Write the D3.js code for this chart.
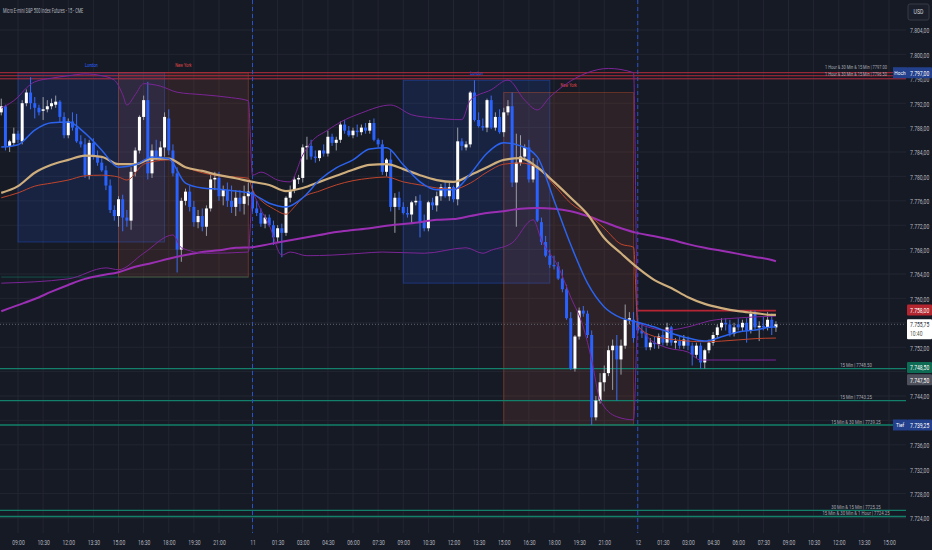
<!DOCTYPE html>
<html>
<head>
<meta charset="utf-8">
<script src="https://cdn.jsdelivr.net/npm/d3@7"></script>
<style>
html, body { margin: 0; padding: 0; background: #161a25; overflow: hidden; }
svg { display: block; font-family: Roboto, "Liberation Sans", sans-serif; }
</style>
</head>
<body>
<div id="chart"></div>
<script>
// ---- candles (15 min bars, index 0 = 08:00 on the 10th) ----
const opens = [
  7790.5, 7791.5, 7785.0, 7785.5, 7787.0, 7785.75, 7792.0, 7793.75, 7792.0, 7791.25,
  7790.75, 7791.0, 7791.5, 7791.75, 7792.25, 7789.75, 7786.75, 7789.0, 7788.0, 7785.75,
  7785.25, 7780.25, 7785.5, 7783.25, 7782.25, 7781.0, 7778.5, 7774.5, 7773.5, 7776.25,
  7773.25, 7772.75, 7780.75, 7784.25, 7789.75, 7792.5, 7780.5, 7784.25, 7783.25, 7784.75,
  7789.5, 7784.25, 7780.5, 7768.0, 7776.0, 7777.5, 7775.0, 7772.5, 7773.5, 7771.75,
  7774.75, 7779.5, 7779.75, 7776.75, 7777.75, 7776.0, 7775.0, 7776.5, 7775.5, 7776.75,
  7777.5, 7774.75, 7774.0, 7772.25, 7773.25, 7772.0, 7770.0, 7771.5, 7770.75, 7776.5,
  7777.75, 7779.5, 7779.75, 7784.75, 7785.0, 7783.25, 7783.0, 7784.25, 7783.75, 7786.5,
  7785.5, 7786.0, 7788.5, 7787.5, 7786.75, 7787.5, 7787.25, 7788.0, 7787.5, 7788.75,
  7786.0, 7785.25, 7780.75, 7782.75, 7775.0, 7776.5, 7775.0, 7774.0, 7773.75, 7775.75,
  7776.0, 7772.5, 7771.5, 7775.75, 7775.25, 7776.75, 7778.25, 7776.75, 7778.25, 7776.25,
  7785.75, 7784.75, 7785.25, 7793.75, 7789.25, 7788.25, 7788.0, 7792.5, 7788.0, 7789.75,
  7787.25, 7790.5, 7791.5, 7779.0, 7782.25, 7783.25, 7784.75, 7779.5, 7781.75, 7772.5,
  7769.25, 7767.0, 7765.5, 7765.25, 7763.25, 7761.5, 7756.75, 7748.5, 7753.75, 7758.0,
  7757.5, 7754.0, 7740.5, 7743.25, 7746.25, 7747.75, 7751.5, 7752.25, 7750.0, 7752.25,
  7756.5, 7756.5, 7756.0, 7754.75, 7754.25, 7752.0, 7752.75, 7752.5, 7754.0, 7752.75,
  7755.25, 7752.75, 7753.0, 7752.25, 7753.25, 7752.25, 7750.75, 7752.25, 7749.5, 7751.5,
  7752.75, 7754.0, 7755.25, 7756.0, 7755.75, 7754.25, 7755.75, 7755.25, 7756.0, 7754.75,
  7757.5, 7755.25, 7755.5, 7755.25, 7756.5, 7755.25
];
const highs = [
  7792.75, 7791.75, 7786.0, 7788.0, 7787.5, 7792.5, 7794.25, 7796.25, 7793.0, 7791.75,
  7793.0, 7792.5, 7792.75, 7793.25, 7792.5, 7790.5, 7789.5, 7790.5, 7790.25, 7786.75,
  7786.25, 7786.0, 7786.25, 7784.25, 7783.0, 7781.75, 7779.5, 7775.25, 7776.75, 7777.0,
  7774.5, 7781.5, 7784.75, 7790.0, 7793.25, 7795.5, 7785.25, 7786.0, 7785.75, 7790.5,
  7791.0, 7785.25, 7781.5, 7776.5, 7778.0, 7778.5, 7776.0, 7774.5, 7774.75, 7775.25,
  7780.25, 7780.75, 7780.75, 7778.5, 7779.0, 7778.5, 7777.75, 7777.75, 7778.5, 7779.0,
  7778.5, 7776.0, 7774.75, 7773.75, 7773.75, 7772.75, 7772.0, 7772.25, 7776.75, 7778.5,
  7780.0, 7780.25, 7785.25, 7786.5, 7786.0, 7784.25, 7784.25, 7785.25, 7787.5, 7787.0,
  7786.5, 7789.0, 7789.25, 7788.25, 7788.0, 7788.5, 7788.5, 7788.75, 7789.25, 7789.5,
  7786.25, 7786.0, 7783.0, 7784.25, 7777.25, 7777.5, 7775.75, 7775.0, 7776.0, 7776.75,
  7777.0, 7773.75, 7776.0, 7776.5, 7777.5, 7778.75, 7779.0, 7779.0, 7778.5, 7788.0,
  7786.25, 7785.75, 7794.0, 7795.75, 7790.5, 7789.5, 7792.75, 7793.25, 7790.5, 7791.0,
  7791.25, 7792.5, 7793.75, 7787.0, 7786.75, 7785.25, 7786.0, 7783.0, 7782.75, 7773.25,
  7770.25, 7768.0, 7767.0, 7766.0, 7764.75, 7762.25, 7757.75, 7754.0, 7758.5, 7758.75,
  7758.0, 7754.75, 7744.0, 7747.75, 7749.0, 7752.25, 7753.25, 7754.0, 7753.25, 7759.0,
  7757.75, 7757.75, 7756.75, 7755.75, 7755.25, 7753.5, 7753.75, 7754.25, 7754.75, 7756.0,
  7755.5, 7753.5, 7753.75, 7754.0, 7753.75, 7752.75, 7752.75, 7752.75, 7751.75, 7753.25,
  7754.5, 7755.75, 7756.75, 7756.75, 7756.5, 7756.0, 7756.75, 7756.5, 7756.75, 7758.0,
  7758.0, 7756.25, 7757.0, 7757.75, 7757.5, 7756.25
];
const lows = [
  7790.0, 7784.25, 7784.0, 7785.0, 7785.5, 7785.25, 7791.5, 7791.0, 7789.5, 7790.0,
  7789.25, 7790.5, 7791.0, 7791.25, 7788.75, 7786.25, 7786.25, 7787.5, 7785.5, 7784.75,
  7779.75, 7779.5, 7782.75, 7781.75, 7780.75, 7777.75, 7774.0, 7772.75, 7771.75, 7771.0,
  7771.75, 7771.25, 7780.0, 7783.75, 7789.25, 7779.5, 7779.75, 7782.75, 7782.75, 7783.25,
  7783.5, 7780.0, 7764.25, 7766.0, 7775.25, 7774.25, 7771.75, 7771.5, 7771.0, 7770.25,
  7774.25, 7777.75, 7776.0, 7775.25, 7775.0, 7774.0, 7773.5, 7774.25, 7773.75, 7775.25,
  7774.25, 7773.5, 7771.75, 7771.5, 7771.75, 7768.75, 7769.25, 7766.75, 7770.25, 7775.75,
  7777.25, 7778.75, 7779.0, 7782.75, 7782.75, 7782.25, 7782.5, 7783.25, 7783.25, 7785.0,
  7784.25, 7785.5, 7787.0, 7786.5, 7786.25, 7786.5, 7786.75, 7787.0, 7787.0, 7785.75,
  7784.75, 7780.25, 7780.0, 7774.25, 7770.75, 7774.5, 7773.75, 7773.25, 7772.25, 7775.25,
  7770.0, 7771.0, 7771.0, 7774.5, 7774.25, 7776.0, 7776.5, 7776.0, 7775.75, 7775.25,
  7784.25, 7784.25, 7784.75, 7789.0, 7788.0, 7787.5, 7787.25, 7787.75, 7787.5, 7787.0,
  7786.5, 7790.0, 7778.25, 7771.75, 7781.75, 7783.0, 7779.0, 7779.0, 7772.5, 7768.75,
  7766.75, 7765.0, 7764.75, 7763.0, 7761.0, 7756.5, 7748.25, 7748.0, 7753.25, 7757.0,
  7753.5, 7739.25, 7740.0, 7742.75, 7744.75, 7747.25, 7745.0, 7743.25, 7747.5, 7751.75,
  7755.75, 7752.75, 7754.25, 7753.5, 7751.5, 7751.5, 7751.75, 7751.75, 7752.25, 7752.25,
  7752.25, 7751.75, 7751.75, 7751.75, 7751.5, 7749.0, 7750.25, 7748.5, 7748.5, 7751.0,
  7752.25, 7753.5, 7754.75, 7754.75, 7753.75, 7753.75, 7754.75, 7754.5, 7752.75, 7754.25,
  7754.75, 7753.0, 7754.75, 7754.75, 7754.0, 7754.5
];
const closes = [
  7791.5, 7785.0, 7785.75, 7787.0, 7786.0, 7792.0, 7793.75, 7792.0, 7791.25, 7790.5,
  7791.0, 7791.5, 7792.0, 7792.25, 7789.75, 7786.75, 7789.0, 7788.0, 7785.75, 7785.25,
  7780.25, 7785.5, 7783.25, 7782.25, 7781.0, 7778.5, 7774.5, 7773.5, 7776.25, 7773.25,
  7772.75, 7780.75, 7784.25, 7789.75, 7792.5, 7780.5, 7784.25, 7783.25, 7784.75, 7789.75,
  7784.25, 7780.5, 7768.0, 7776.0, 7777.5, 7775.0, 7772.5, 7773.5, 7771.75, 7774.75,
  7779.5, 7779.75, 7776.75, 7777.75, 7776.0, 7775.0, 7776.5, 7775.5, 7776.75, 7777.5,
  7774.75, 7774.0, 7772.25, 7773.25, 7772.0, 7770.0, 7771.5, 7770.75, 7776.5, 7777.75,
  7779.5, 7779.75, 7784.75, 7785.0, 7783.25, 7783.0, 7784.25, 7783.75, 7786.5, 7785.5,
  7786.0, 7788.5, 7787.5, 7786.75, 7787.5, 7787.25, 7788.0, 7787.5, 7788.75, 7786.0,
  7785.25, 7780.75, 7782.75, 7775.0, 7776.5, 7775.0, 7774.0, 7773.75, 7775.75, 7776.0,
  7772.5, 7771.5, 7775.75, 7775.25, 7776.75, 7778.25, 7776.75, 7778.25, 7776.25, 7785.75,
  7785.0, 7785.25, 7793.75, 7789.25, 7788.25, 7788.0, 7792.5, 7788.0, 7789.75, 7787.25,
  7790.5, 7791.5, 7779.0, 7782.25, 7783.25, 7784.75, 7779.5, 7781.75, 7772.75, 7769.25,
  7767.0, 7765.5, 7765.25, 7763.25, 7761.5, 7756.75, 7748.5, 7753.75, 7758.0, 7757.5,
  7754.0, 7740.5, 7743.25, 7746.25, 7747.75, 7751.5, 7752.25, 7750.0, 7752.25, 7756.5,
  7756.75, 7753.5, 7754.75, 7754.25, 7752.0, 7752.75, 7752.5, 7753.75, 7752.75, 7755.25,
  7752.75, 7753.0, 7752.25, 7753.25, 7752.25, 7750.75, 7752.25, 7749.5, 7751.5, 7752.75,
  7754.0, 7755.25, 7756.0, 7755.75, 7754.25, 7755.25, 7755.25, 7756.0, 7754.75, 7757.5,
  7755.25, 7755.5, 7755.25, 7756.5, 7755.25, 7755.75
];

// ---- indicator lines ----
const sampleBars = [0, 4, 8, 12, 16, 20, 24, 28, 32, 36, 40, 44, 48, 52, 56, 60, 64, 68, 72, 76,
  80, 84, 88, 92, 96, 100, 104, 108, 112, 116, 120, 124, 128, 132, 136, 140, 144, 148, 152, 156,
  160, 164, 168, 172, 176, 180, 184, 185];
const emaFast = [7784.8, 7785.2, 7787.6, 7788.8, 7788.9, 7787.1, 7784.3, 7781.5, 7781.9, 7783.2,
  7782.9, 7778.9, 7778.1, 7777.9, 7777.6, 7777.1, 7775.6, 7775.0, 7776.5, 7779.4,
  7781.4, 7782.7, 7784.5, 7784.7, 7781.9, 7779.1, 7777.8, 7777.8, 7780.4, 7783.8,
  7785.5, 7785.0, 7783.2, 7776.1, 7768.8, 7762.5, 7758.6, 7756.8, 7756.1, 7755.3,
  7754.3, 7753.5, 7753.0, 7753.7, 7754.5, 7754.8, 7755.3, 7755.3];
const emaMid = [7777.3, 7778.4, 7780.6, 7781.9, 7782.7, 7783.4, 7783.2, 7782.0, 7782.0, 7782.9,
  7782.9, 7781.5, 7780.9, 7780.2, 7779.7, 7779.1, 7778.6, 7777.6, 7778.1, 7779.1,
  7780.1, 7781.1, 7781.9, 7782.0, 7781.2, 7780.2, 7779.4, 7779.1, 7780.2, 7781.5,
  7782.7, 7783.0, 7781.5, 7779.1, 7776.5, 7773.8, 7769.9, 7767.4, 7765.0, 7763.0,
  7761.7, 7760.2, 7759.1, 7758.4, 7757.9, 7757.6, 7757.3, 7757.3];
const emaSlow = [7757.9, 7758.9, 7759.9, 7761.1, 7762.2, 7763.2, 7763.8, 7764.3, 7765.2, 7765.8,
  7766.5, 7767.1, 7767.6, 7767.9, 7768.3, 7768.4, 7768.9, 7769.4, 7769.9, 7770.4,
  7770.9, 7771.2, 7771.5, 7771.9, 7772.2, 7772.5, 7772.9, 7773.0, 7773.5, 7774.0,
  7774.3, 7774.7, 7774.8, 7774.7, 7774.3, 7773.5, 7772.5, 7771.5, 7770.7, 7770.2,
  7769.6, 7768.9, 7768.3, 7767.8, 7767.3, 7766.8, 7766.3, 7766.1];

const vwapBars = [0, 4, 8, 12, 16, 20, 24, 28, 30, 34, 36, 40, 44, 48, 52, 56, 59,
  60, 62, 65, 68, 70, 72, 76, 80, 84, 88, 92, 96, 100, 104, 108, 112, 116, 120, 124, 128, 132, 136, 140, 144, 148, 151,
  152, 155, 159, 164, 168, 172, 176, 180, 185];
const vwapVals = [7776.5, 7777.3, 7778.4, 7778.9, 7779.4, 7780.1, 7780.2, 7779.9, 7779.4, 7782.0, 7782.4, 7782.7, 7781.5, 7780.6, 7780.1, 7779.9, 7779.7,
  7777.8, 7776.1, 7774.7, 7773.8, 7775.0, 7776.5, 7777.6, 7778.6, 7779.3, 7779.7, 7779.9, 7779.1, 7778.6, 7778.1, 7777.9, 7778.9, 7780.7, 7782.0, 7782.2, 7781.4, 7778.6, 7775.6, 7773.8, 7771.5, 7768.9, 7768.4,
  7755.6, 7754.0, 7753.4, 7753.0, 7752.9, 7753.0, 7753.2, 7753.4, 7753.5];
const bandUpBars = [0, 4, 6, 8, 12, 16, 20, 24, 27, 29, 30, 32, 34, 38, 42, 48, 55, 59,
  60, 62, 66, 69, 72, 74, 78, 81, 86, 93, 98, 103, 110, 112, 117, 121, 125, 128, 131, 135, 140, 145, 151,
  152, 155, 159, 165, 169, 176, 185];
const bandUpVals = [7791.2, 7793.0, 7794.5, 7795.5, 7796.1, 7796.5, 7796.8, 7796.5, 7795.8, 7793.4, 7791.7, 7793.4, 7795.2, 7794.8, 7793.8, 7793.4, 7792.9, 7792.4,
  7780.2, 7780.7, 7779.4, 7779.1, 7783.5, 7785.6, 7787.6, 7788.9, 7790.4, 7791.7, 7790.1, 7789.6, 7789.3, 7792.5, 7794.2, 7795.8, 7792.5, 7790.9, 7793.0, 7795.2, 7797.0, 7797.7, 7797.0,
  7756.1, 7755.2, 7754.8, 7755.5, 7756.3, 7756.8, 7757.1];
const bandLoBars = [0, 16, 25, 28, 34, 41, 43, 49, 59,
  60, 62, 64, 67, 69, 73, 79, 86, 91, 101, 111, 115, 117, 122, 127, 129, 133, 136, 139, 141, 143, 147, 151,
  152, 155, 159, 164, 167, 176, 185];
const bandLoVals = [7762.5, 7763.2, 7765.0, 7764.7, 7767.4, 7770.4, 7768.3, 7767.4, 7767.6,
  7777.0, 7774.5, 7772.0, 7767.1, 7767.6, 7767.0, 7767.1, 7767.4, 7767.6, 7767.4, 7768.3, 7767.4, 7767.9, 7769.1, 7772.9, 7769.6, 7765.2, 7760.2, 7755.3, 7749.9, 7743.4, 7740.6, 7740.1,
  7755.2, 7753.2, 7751.9, 7751.2, 7749.9, 7749.9, 7749.9];

// ---- sessions ----
const sessionNames = ["London", "New York", "London", "New York"];
const sessionStart = [4, 28, 96, 120];
const sessionEnd = [39, 59, 131, 151];
const sessionHigh = [7797.0, 7797.0, 7795.75, 7793.75];
const sessionLow = [7769.25, 7763.5, 7762.5, 7739.25];

// ---- levels ----
const resPrices = [7797.0, 7796.5, 7796.0];
const resLabels = ["1 Hour & 30 Min & 15 Min | 7797.00", "1 Hour & 30 Min & 15 Min | 7796.50", ""];
const supPrices = [7748.5, 7743.25, 7739.25, 7725.25, 7724.25];
const supLabels = ["15 Min | 7748.50", "15 Min | 7743.25", "15 Min & 30 Min | 7739.25",
  "30 Min & 15 Min | 7725.25", "15 Min & 30 Min & 1 Hour | 7724.25"];
const oldLevel = 7763.5, oldLevelBars = [0, 59];
const dayHigh = 7758.0, dayHighBars = [152, 185];
const lastPrice = 7755.75, countdown = "10:40";
const highLabel = 7797.0, lowLabel = 7739.25, prevTag = 7747.5;

// ---- axes ----
const priceTicks = [7724, 7728, 7732, 7736, 7740, 7744, 7748, 7752, 7756, 7760, 7764,
  7768, 7772, 7776, 7780, 7784, 7788, 7792, 7796, 7800, 7804];
const timeTickBars = [4, 10, 16, 22, 28, 34, 40, 46, 52, 60, 66, 72, 78, 84, 90, 96, 102, 108, 114, 120,
  126, 132, 138, 144, 152, 158, 164, 170, 176, 182, 188, 194, 200, 206, 212];
const timeTickLabels = ["09:00", "10:30", "12:00", "13:30", "15:00", "16:30", "18:00", "19:30", "21:00", "11",
  "01:30", "03:00", "04:30", "06:00", "07:30", "09:00", "10:30", "12:00", "13:30", "15:00",
  "16:30", "18:00", "19:30", "21:00", "12", "01:30", "03:00", "04:30", "06:00", "07:30",
  "09:00", "10:30", "12:00", "13:30", "15:00"];
const dayStartBars = [60, 152];

const W = 932, H = 550;
const plotRight = 906, plotBottom = 533;
const TXT = "#b2b5be";

const x = d3.scaleLinear().domain([4, 212]).range([18, 889]);
const y = d3.scaleLinear().domain([7724, 7804]).range([518, 30]);
const fmtAxis = d3.formatLocale({decimal: ",", thousands: ".", grouping: [3], currency: ["", ""]}).format(",.2f");

const svg = d3.select("#chart").append("svg")
  .attr("width", W).attr("height", H);

svg.append("rect").attr("width", W).attr("height", H).attr("fill", "#161a25");

// squeezed text helper (the screenshot text is narrow)
function label(g, tx, ty, str, o) {
  o = o || {};
  return g.append("text")
    .attr("transform", "translate(" + tx + "," + ty + ") scale(" + (o.sx || 0.72) + ",1)")
    .attr("text-anchor", o.anchor || "start")
    .attr("dominant-baseline", "central")
    .attr("font-size", o.size || 7)
    .attr("fill", o.fill || TXT)
    .text(str);
}

// grid
const grid = svg.append("g");
grid.selectAll(".hg").data(priceTicks).enter().append("line")
  .attr("x1", 0).attr("x2", plotRight)
  .attr("y1", d => y(d)).attr("y2", d => y(d))
  .attr("stroke", "#222631").attr("stroke-width", 1);
grid.selectAll(".vg").data(timeTickBars).enter().append("line")
  .attr("x1", d => x(d)).attr("x2", d => x(d))
  .attr("y1", 0).attr("y2", plotBottom)
  .attr("stroke", "#222631").attr("stroke-width", 1);

// session boxes
const sess = svg.append("g");
sessionNames.forEach(function(n, i) {
  const isLon = n === "London";
  sess.append("rect")
    .attr("x", x(sessionStart[i])).attr("width", x(sessionEnd[i]) - x(sessionStart[i]))
    .attr("y", y(sessionHigh[i])).attr("height", y(sessionLow[i]) - y(sessionHigh[i]))
    .attr("fill", isLon ? "rgba(41,98,255,0.13)" : "rgba(255,110,60,0.10)")
    .attr("stroke", isLon ? "rgba(41,98,255,0.35)" : "rgba(230,90,50,0.35)")
    .attr("stroke-width", 1);
  label(sess, (x(sessionStart[i]) + x(sessionEnd[i])) / 2, y(sessionHigh[i]) - 7, n,
    {anchor: "middle", size: 4.5, sx: 0.85, fill: isLon ? "#2962ff" : "#e04848"});
});

// level lines
const lv = svg.append("g");
lv.append("line")
  .attr("x1", x(oldLevelBars[0])).attr("x2", x(oldLevelBars[1]))
  .attr("y1", y(oldLevel)).attr("y2", y(oldLevel))
  .attr("stroke", "rgba(16,128,102,0.55)").attr("stroke-width", 1);
resPrices.forEach(function(p) {
  lv.append("line").attr("x1", 0).attr("x2", plotRight)
    .attr("y1", y(p)).attr("y2", y(p))
    .attr("stroke", "#b52a3c").attr("stroke-width", 1);
});
supPrices.forEach(function(p) {
  lv.append("line").attr("x1", 0).attr("x2", plotRight)
    .attr("y1", y(p)).attr("y2", y(p))
    .attr("stroke", "#12806a").attr("stroke-width", 1.3);
});
lv.append("line")
  .attr("x1", x(dayHighBars[0])).attr("x2", x(dayHighBars[1]))
  .attr("y1", y(dayHigh)).attr("y2", y(dayHigh))
  .attr("stroke", "#b52533").attr("stroke-width", 1.6);

// day separators
svg.selectAll(".day").data(dayStartBars).enter().append("line")
  .attr("x1", d => x(d)).attr("x2", d => x(d))
  .attr("y1", 0).attr("y2", plotBottom)
  .attr("stroke", "#2a52c8").attr("stroke-width", 1)
  .attr("stroke-dasharray", "4,3");

// current price line
svg.append("line")
  .attr("x1", 0).attr("x2", plotRight)
  .attr("y1", y(lastPrice)).attr("y2", y(lastPrice))
  .attr("stroke", "#5f626c").attr("stroke-width", 1)
  .attr("stroke-dasharray", "1,2");

// candles
const bars = d3.range(opens.length);
const cg = svg.append("g");
cg.selectAll(".wick").data(bars).enter().append("line")
  .attr("x1", d => x(d)).attr("x2", d => x(d))
  .attr("y1", d => y(highs[d])).attr("y2", d => y(lows[d]))
  .attr("stroke", d => closes[d] >= opens[d] ? "#9a9ca4" : "#3d6cf0")
  .attr("stroke-width", 1);
cg.selectAll(".body").data(bars).enter().append("rect")
  .attr("x", d => x(d) - 1.5).attr("width", 3)
  .attr("y", d => y(Math.max(opens[d], closes[d])))
  .attr("height", d => Math.max(1, Math.abs(y(opens[d]) - y(closes[d]))))
  .attr("fill", d => closes[d] >= opens[d] ? "#ffffff" : "#2962ff");

// indicator lines
const lineGen = d3.line().x(d => x(d[0])).y(d => y(d[1])).curve(d3.curveMonotoneX);
function pairs(b, v) { return b.map((d, i) => [d, v[i]]); }
const lg = svg.append("g").attr("fill", "none");
lg.append("path").attr("d", lineGen(pairs(sampleBars, emaSlow)))
  .attr("stroke", "#9b2fb3").attr("stroke-width", 2);
lg.append("path").attr("d", lineGen(pairs(bandUpBars, bandUpVals)))
  .attr("stroke", "#7b2596").attr("stroke-width", 1);
lg.append("path").attr("d", lineGen(pairs(bandLoBars, bandLoVals)))
  .attr("stroke", "#7b2596").attr("stroke-width", 1);
lg.append("path").attr("d", lineGen(pairs(vwapBars, vwapVals)))
  .attr("stroke", "#c0452c").attr("stroke-width", 1);
lg.append("path").attr("d", lineGen(pairs(sampleBars, emaMid)))
  .attr("stroke", "#cfae7d").attr("stroke-width", 2.2);
lg.append("path").attr("d", lineGen(pairs(sampleBars, emaFast)))
  .attr("stroke", "#2b63ee").attr("stroke-width", 1.5);

// level labels
const ll = svg.append("g");
const resOffset = [-5, -1, 0];
resPrices.forEach(function(p, i) {
  if (resLabels[i]) label(ll, 856, y(p) + resOffset[i], resLabels[i], {anchor: "middle", size: 5.2, sx: 0.76, fill: "#a7aab3"});
});
supPrices.forEach(function(p, i) {
  label(ll, 856, y(p) - 3.5, supLabels[i], {anchor: "middle", size: 5.5, sx: 0.78, fill: "#a7aab3"});
});

// title
label(svg, 3, 11, "Micro E-mini S&P 500 Index Futures - 15 - CME", {size: 6.5, sx: 0.6, fill: TXT});

// price tags drawn over the axis, so axis labels under them are skipped
const tagPrices = [lastPrice, supPrices[0], prevTag, lowLabel, dayHigh, highLabel];

// right price axis
const yAxis = d3.axisRight(y).tickValues(priceTicks).tickFormat(fmtAxis).tickSize(0);
const yg = svg.append("g").attr("transform", "translate(910,0)").call(yAxis);
yg.select(".domain").remove();
yg.attr("font-family", null).attr("font-size", null);
yg.selectAll(".tick").filter(d => tagPrices.some(p => Math.abs(y(d) - y(p)) < 6)).remove();
yg.selectAll("text").attr("x", 0).attr("dy", null)
  .attr("dominant-baseline", "central")
  .attr("transform", "scale(0.72,1)")
  .attr("font-size", 7).attr("fill", TXT);

// bottom time axis
const xAxis = d3.axisBottom(x).tickValues(timeTickBars).tickFormat((d, i) => timeTickLabels[i]).tickSize(0);
const xg = svg.append("g").attr("transform", "translate(0,542)").call(xAxis);
xg.select(".domain").remove();
xg.attr("font-family", null).attr("font-size", null);
xg.selectAll("text").attr("y", 0).attr("dy", null)
  .attr("dominant-baseline", "central")
  .attr("transform", "scale(0.72,1)")
  .attr("font-size", 7).attr("fill", TXT);

// price tags on the axis
const tags = svg.append("g");
function tag(p, bg, fg, str, dy) {
  const cy = y(p) + (dy || 0);
  tags.append("rect").attr("x", 907).attr("y", cy - 5.5).attr("width", 25).attr("height", 11)
    .attr("fill", bg).attr("rx", 1);
  label(tags, 910, cy, str, {fill: fg});
}
tag(prevTag, "#4e515b", "#ffffff", fmtAxis(prevTag), 5);
tag(supPrices[0], "#0e6b54", "#ffffff", fmtAxis(supPrices[0]), -1);
tag(dayHigh, "#b3262f", "#ffffff", fmtAxis(dayHigh), -0.5);
tag(highLabel, "#22408c", "#ffffff", fmtAxis(highLabel), 0);
tag(lowLabel, "#22408c", "#ffffff", fmtAxis(lowLabel), 0);

function sideTag(p, str) {
  tags.append("rect").attr("x", 893).attr("y", y(p) - 5.5).attr("width", 14).attr("height", 11)
    .attr("fill", "#22408c");
  label(tags, 900, y(p), str, {anchor: "middle", size: 6, sx: 0.8, fill: "#ffffff"});
}
sideTag(highLabel, "Hoch");
sideTag(lowLabel, "Tief");

// last price with countdown
tags.append("rect").attr("x", 907).attr("y", y(lastPrice) - 5).attr("width", 25).attr("height", 20)
  .attr("fill", "#ffffff").attr("rx", 1);
label(tags, 910, y(lastPrice), fmtAxis(lastPrice), {fill: "#2a2e39"});
label(tags, 910, y(lastPrice) + 9, countdown, {fill: "#55584a"});

// currency box
tags.append("rect").attr("x", 908).attr("y", 4).attr("width", 21).attr("height", 16)
  .attr("rx", 2).attr("fill", "#1b1f2b").attr("stroke", "#363a47");
label(tags, 918.5, 12, "USD", {anchor: "middle", size: 6.5, sx: 0.8, fill: "#d1d4dc"});
</script>
</body>
</html>
